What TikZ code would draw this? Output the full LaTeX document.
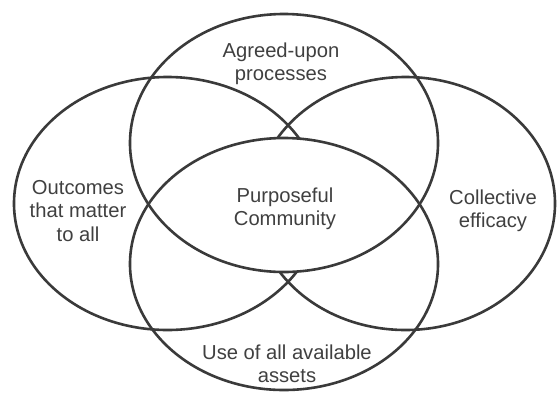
\documentclass[tikz,border=0pt]{standalone}
\usepackage{fontspec}
\setmainfont{Liberation Sans}
\usetikzlibrary{shapes.geometric}
\definecolor{ink}{HTML}{3A3A3A}
\definecolor{txt}{HTML}{404040}
\begin{document}
\begin{tikzpicture}[x=1pt,y=-1pt,
  ring/.style={draw=ink, line width=2.6pt, ellipse, inner sep=0pt},
  lbl/.style={text=txt, font=\fontsize{20.2}{23.5}\selectfont, align=center, inner sep=0pt}]
\useasboundingbox (0,0) rectangle (559,392);
% side ellipses first
\node[ring, minimum width=307pt, minimum height=253pt] (left) at (167.5,203.5) {};
\node[ring, minimum width=299pt, minimum height=253pt] (right) at (405.5,203.5) {};
% blank the central lens (intersection of top and bottom ellipses)
\coordinate (tc) at (284,143);
\coordinate (bc) at (284,264);
\begin{scope}
  \clip (tc) ellipse [x radius=154pt, y radius=129pt];
  \fill[white] (bc) ellipse [x radius=154pt, y radius=126pt];
\end{scope}
\node[ring, minimum width=308pt, minimum height=258pt] (top) at (tc) {};
\node[ring, minimum width=308pt, minimum height=252pt] (bot) at (bc) {};
\node[lbl] (agreed) at (281,64) {Agreed-upon\\processes};
\node[lbl] (outcomes) at (78,211) {Outcomes\\that matter\\to all};
\node[lbl] (purpose) at (285,209) {Purposeful\\Community};
\node[lbl] (collective) at (493,211) {Collective\\efficacy};
\node[lbl] (assets) at (287,364) {Use of all available\\assets};
\end{tikzpicture}
\end{document}
